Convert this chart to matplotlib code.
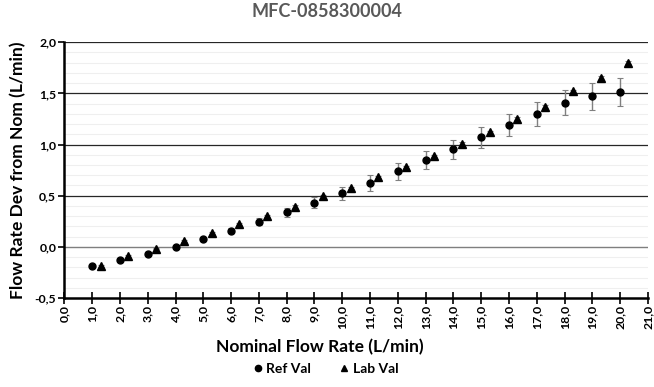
import numpy as np
import matplotlib.pyplot as plt
from matplotlib.lines import Line2D
from matplotlib.ticker import MultipleLocator, FuncFormatter

plt.rcParams['font.family'] = ['Lato', 'DejaVu Sans']
plt.rcParams['font.weight'] = 'bold'

# data
ref_x = [1, 2, 3, 4, 5, 6, 7, 8, 9, 10, 11, 12, 13, 14, 15, 16, 17, 18, 19, 20]
ref_y = [-0.19, -0.13, -0.066, 0.0, 0.078, 0.156, 0.247, 0.336, 0.433, 0.522,
         0.623, 0.740, 0.851, 0.952, 1.07, 1.19, 1.30, 1.41, 1.47, 1.51]
ref_err = [0.01, 0.012, 0.014, 0.016, 0.02, 0.025, 0.035, 0.04, 0.05, 0.065,
           0.075, 0.082, 0.09, 0.096, 0.104, 0.11, 0.12, 0.124, 0.13, 0.137]

lab_x = [1.3, 2.3, 3.3, 4.3, 5.3, 6.3, 7.3, 8.3, 9.3, 10.3,
         11.3, 12.3, 13.3, 14.3, 15.3, 16.3, 17.3, 18.3, 19.3, 20.3]
lab_y = [-0.187, -0.092, -0.017, 0.058, 0.137, 0.221, 0.303, 0.394, 0.492, 0.577,
         0.68, 0.78, 0.89, 1.008, 1.12, 1.25, 1.37, 1.52, 1.65, 1.80]
lab_err = [0.008, 0.008, 0.008, 0.008, 0.008, 0.008, 0.01, 0.01, 0.01, 0.012,
           0.012, 0.012, 0.012, 0.014, 0.014, 0.015, 0.015, 0.016, 0.016, 0.018]

fig = plt.figure(figsize=(6.54, 3.87), dpi=100)
ax = fig.add_axes([0.0986, 0.230, 0.892, 0.661])

ax.errorbar(ref_x, ref_y, yerr=ref_err, fmt='o', color='black', markersize=5,
            ecolor='#808080', elinewidth=1, capsize=2, capthick=0.8, zorder=3)
ax.errorbar(lab_x, lab_y, yerr=lab_err, fmt='^', color='black', markersize=5.5,
            ecolor='#808080', elinewidth=1, capsize=2, capthick=0.8, zorder=3)

ax.set_xlim(0, 21)
ax.set_ylim(-0.5, 2.0)
ax.xaxis.set_major_locator(MultipleLocator(1))
ax.yaxis.set_major_locator(MultipleLocator(0.5))
ax.yaxis.set_minor_locator(MultipleLocator(0.1))
comma = FuncFormatter(lambda v, p: ('%.1f' % v).replace('.', ','))
ax.xaxis.set_major_formatter(comma)
ax.yaxis.set_major_formatter(comma)

# gridlines
ax.grid(which='minor', axis='y', color='#efefef', linewidth=0.8, zorder=0)
for yv in [0.5, 1.0, 1.5, 2.0]:
    ax.axhline(yv, color='#262626', linewidth=0.9, zorder=1)
ax.axhline(0.0, color='#7f7f7f', linewidth=1.0, zorder=1)

for s in ['top', 'right']:
    ax.spines[s].set_visible(False)
for s in ['left', 'bottom']:
    ax.spines[s].set_linewidth(1.8)
    ax.spines[s].set_color('black')

ax.tick_params(axis='x', which='major', direction='inout', length=8, width=1.2,
               labelrotation=90, labelsize=8.8, pad=1)
ax.tick_params(axis='y', which='major', direction='out', length=4, width=1.2,
               labelsize=8.8, pad=2)
ax.tick_params(axis='y', which='minor', length=0)

ax.set_xlabel('Nominal Flow Rate (L/min)', fontsize=12.5, fontweight='bold')
ax.xaxis.set_label_coords(0.438, -0.16)
ax.set_ylabel('Flow Rate Dev from Nom (L/min)', fontsize=12.5, fontweight='bold', labelpad=6)
fig.suptitle('MFC-0858300004', fontsize=13, fontweight='bold', color='#595959', y=0.993)

handles = [Line2D([], [], ls='none', marker='o', color='black', markersize=4.5),
           Line2D([], [], ls='none', marker='^', color='black', markersize=4.5)]
fig.legend(handles, ['Ref Val', 'Lab Val'], loc='center', bbox_to_anchor=(0.495, 0.047),
           ncol=2, frameon=False, handletextpad=0.0, columnspacing=1.8,
           handlelength=1.2, prop={'weight': 'bold', 'size': 10})

fig.savefig('out.png', dpi=100)
